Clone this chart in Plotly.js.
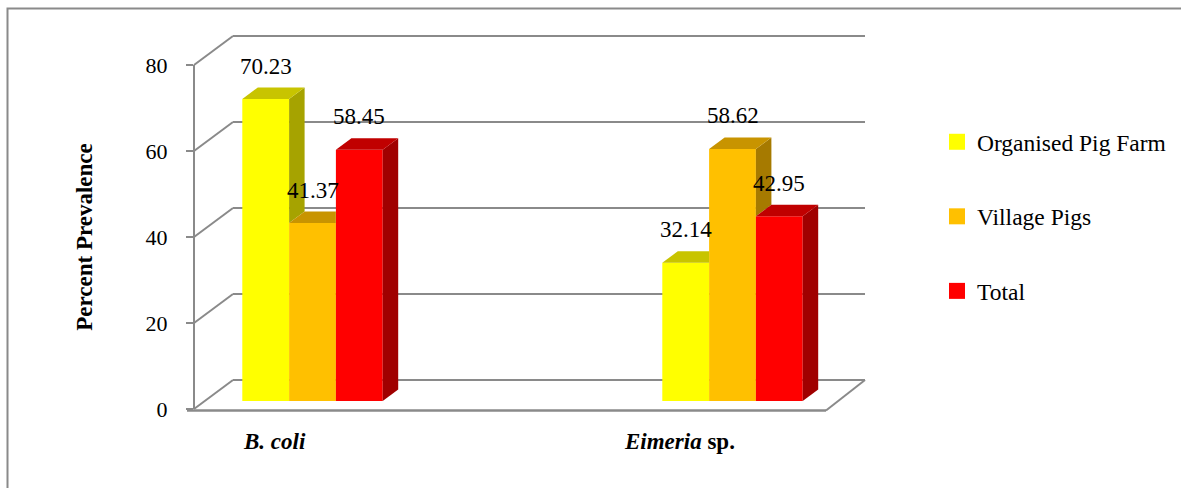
<!DOCTYPE html>
<html>
<head>
<meta charset="utf-8">
<script src="https://cdn.plot.ly/plotly-3.0.1.min.js"></script>
<style>html,body{margin:0;padding:0;background:#fff;}#chart{width:1181px;height:488px;}</style>
</head>
<body>
<div id="chart"></div>
<script>
// ---- data ----
const categories = ['B. coli', 'Eimeria sp.'];
const categoryLabels = ['<b><i>B. coli</i></b>', '<b><i>Eimeria</i> sp.</b>'];
const seriesNames = ['Organised Pig Farm', 'Village Pigs', 'Total'];
const organisedPigFarm = [70.23, 32.14];
const villagePigs = [41.37, 58.62];
const total = [58.45, 42.95];
const yTickVals = [0, 20, 40, 60, 80];
const yAxisTitle = 'Percent Prevalence';

// ---- styles ----
const W = 1181, H = 488;
const FONT = 'Liberation Serif, Times New Roman, serif';
const frontColors = ['#FFFF00', '#FFC000', '#FF0000'];
const topColors = ['#C8C400', '#C89400', '#C00000'];
const sideColors = ['#A6A300', '#A67A00', '#A00000'];
const gridColor = '#8a8a8a';

// pixel geometry of the pseudo-3D frame
const y0px = 409, y80px = 65;            // front axis 0 and 80
const pxPerUnit = (y0px - y80px) / 80;
const barBasePx = 401;                   // bars sit a bit behind the front plane
const backDyPx = 29, frontX = 194, backX = 233, backRight = 865, floorRight = 826;
const cat0Px = 312.5, pxPerCat = 420;
const barWpx = 46.8, sideDxPx = 15.5, topDyPx = 11.5;

const xmin = -cat0Px / pxPerCat, xmax = xmin + W / pxPerCat;
const barW = barWpx / pxPerCat;
const dxU = sideDxPx / pxPerCat, dyU = topDyPx / pxPerUnit;
const y2shift = (y0px - barBasePx) / pxPerUnit;

const series = [organisedPigFarm, villagePigs, total];
const xIdx = categories.map((c, i) => i);

const traces = [];
// front faces as bars
series.forEach((vals, j) => {
  traces.push({
    type: 'bar', x: xIdx, y: vals, name: seriesNames[j], xaxis: 'x', yaxis: 'y2',
    marker: {color: frontColors[j], line: {width: 0}}, showlegend: false, hoverinfo: 'skip', cliponaxis: false
  });
});
// top and side faces computed from the values
categories.forEach((c, i) => {
  series.forEach((vals, j) => {
    const v = vals[i];
    const x0 = i + (j - 1.5) * barW, x1 = x0 + barW;
    const next = j < series.length - 1 ? series[j + 1][i] : null;
    if (next === null || v > next) {
      const b = next === null ? 0 : next;
      traces.push({type: 'scatter', mode: 'lines', xaxis: 'x', yaxis: 'y2',
        x: [x1, x1, x1 + dxU, x1 + dxU, x1], y: [b, v, v + dyU, b + dyU, b],
        fill: 'toself', fillcolor: sideColors[j], line: {width: 0}, showlegend: false, hoverinfo: 'skip'});
    }
    let tx, ty;
    if (next === null || next <= v) {
      tx = [x0, x1, x1 + dxU, x0 + dxU, x0]; ty = [v, v, v + dyU, v + dyU, v];
    } else {
      tx = [x0, x1, x1, x0 + dxU, x0]; ty = [v, v, v + dyU, v + dyU, v];
    }
    traces.push({type: 'scatter', mode: 'lines', xaxis: 'x', yaxis: 'y2', x: tx, y: ty,
      fill: 'toself', fillcolor: topColors[j], line: {width: 0}, showlegend: false, hoverinfo: 'skip'});
  });
});
// legend entries (on the main front axis, which keeps that axis in use)
series.forEach((vals, j) => {
  traces.push({type: 'scatter', mode: 'markers', x: [null], y: [null], xaxis: 'x', yaxis: 'y',
    name: seriesNames[j], legendgroup: 'g' + j,
    marker: {symbol: 'square', size: 16, color: frontColors[j]}, hoverinfo: 'skip'});
});

// walls / gridlines (paper coordinates derived from the axis scale, so they are not clipped)
const shapes = [];
const px = p => p / W;
const pyFront = v => 1 - (y0px - v * pxPerUnit) / H;
const pyBack = v => 1 - (y0px - backDyPx - v * pxPerUnit) / H;
const L = (x0, y0, x1, y1, w) => ({type: 'line', xref: 'paper', yref: 'paper', x0, y0, x1, y1,
  line: {color: gridColor, width: w || 2}, layer: 'below'});
yTickVals.forEach(t => {
  shapes.push(L(px(frontX), pyFront(t), px(backX), pyBack(t)));
  shapes.push(L(px(backX), pyBack(t), px(backRight), pyBack(t)));
});
// floor front and right edges
shapes.push(L(px(frontX - 7), 1 - 410.5 / H, px(floorRight), 1 - 410.5 / H, 2.5));
shapes.push(L(px(floorRight), 1 - 410.5 / H, px(backRight), pyBack(0)));
// outer chart border
shapes.push({type: 'rect', xref: 'paper', yref: 'paper', x0: 7.5 / W, y0: -0.05, x1: 1.05, y1: 1 - 8.5 / H,
  line: {color: gridColor, width: 2}, fillcolor: 'rgba(0,0,0,0)', layer: 'below'});

// annotations: data labels and category labels
const annotations = [];
categories.forEach((c, i) => {
  series.forEach((vals, j) => {
    const xc = i + (j - 1) * barW;
    annotations.push({xref: 'x', yref: 'y2', x: xc, y: vals[i] + dyU, yshift: 21.5,
      text: vals[i].toFixed(2), showarrow: false, xanchor: 'center', yanchor: 'middle',
      font: {family: FONT, size: 23, color: '#000'}});
  });
});
const catLabelPx = [274, 679];
categories.forEach((c, i) => {
  annotations.push({xref: 'paper', yref: 'paper', x: catLabelPx[i] / W, y: 1 - 441 / H,
    text: categoryLabels[i], showarrow: false, xanchor: 'center', yanchor: 'middle',
    font: {family: FONT, size: 23, color: '#000'}});
});

const yDomain = [1 - y0px / H, 1 - y80px / H];
const layout = {
  width: W, height: H,
  margin: {l: 0, r: 0, t: 0, b: 0, pad: 0},
  paper_bgcolor: '#fff', plot_bgcolor: 'rgba(0,0,0,0)',
  font: {family: FONT},
  barmode: 'group', bargap: 1 - 3 * barW, bargroupgap: 0,
  showlegend: true,
  legend: {x: 937 / W, xanchor: 'left', y: 1 - 120 / H, yanchor: 'top',
    font: {family: FONT, size: 23.5, color: '#000'}, tracegroupgap: 41, traceorder: 'grouped',
    bgcolor: 'rgba(0,0,0,0)', itemclick: false},
  xaxis: {domain: [0, 1], range: [xmin, xmax], visible: false, fixedrange: true},
  yaxis: {domain: yDomain, range: [0, 80], anchor: 'free', position: frontX / W,
    tickvals: yTickVals, ticktext: yTickVals.map(String), ticks: 'outside', ticklen: 7, tickwidth: 2,
    tickcolor: gridColor, showline: true, linecolor: gridColor, linewidth: 2, showgrid: false, zeroline: false,
    ticklabelstandoff: 14,
    tickfont: {family: FONT, size: 22, color: '#000'},
    title: {text: '<b>' + yAxisTitle + '</b>', font: {family: FONT, size: 23, color: '#000'}, standoff: 46},
    fixedrange: true},
  yaxis2: {overlaying: 'y', range: [-y2shift, 80 - y2shift], visible: false, fixedrange: true},
  shapes: shapes,
  annotations: annotations
};

Plotly.newPlot('chart', traces, layout, {displayModeBar: false, staticPlot: true});
</script>
</body>
</html>
